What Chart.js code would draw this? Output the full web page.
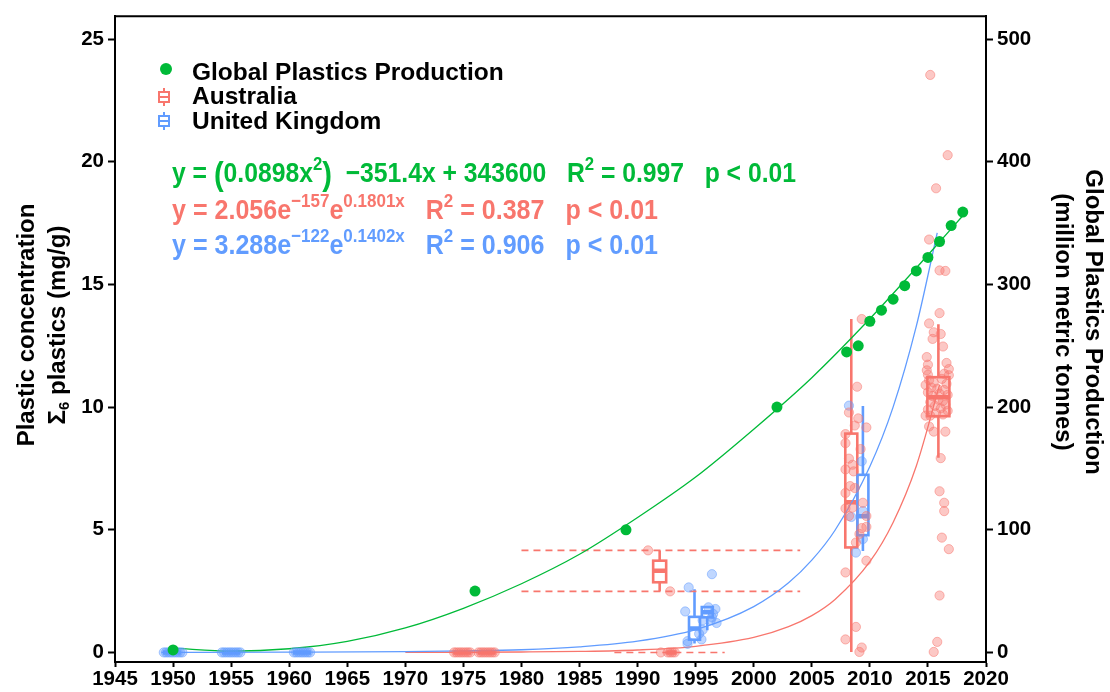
<!DOCTYPE html>
<html>
<head>
<meta charset="utf-8">
<script src="https://cdn.jsdelivr.net/npm/chart.js@4.4.1/dist/chart.umd.min.js"></script>
<style>
    html, body { margin: 0; padding: 0; background: #fff; }
    canvas { display: block; }
</style>
</head>
<body>
<canvas id="plasticsChart" width="1110" height="692"></canvas>
<script>
const RED = '#F8766D';
const GREEN = '#00BA38';
const BLUE = '#619CFF';
const FONT = "'Liberation Sans', Arial, Helvetica, sans-serif";

// axis ticks
const yearTicks = [1945, 1950, 1955, 1960, 1965, 1970, 1975, 1980, 1985, 1990, 1995, 2000, 2005, 2010, 2015, 2020];
const concTicks = [0, 5, 10, 15, 20, 25];
const prodTicks = [0, 100, 200, 300, 400, 500];

// global plastics production (million metric tonnes, right axis)
const prodYears = [1950, 1976, 1989, 2002, 2008, 2009, 2010, 2011, 2012, 2013, 2014, 2015, 2016, 2017, 2018];
const prodTonnes = [2, 50, 100, 200, 245, 250, 270, 279, 288, 299, 311, 322, 335, 348, 359];

// fitted production trend
const prodFitYears = [1950, 1955, 1960, 1965, 1970, 1975, 1980, 1985, 1990, 1995, 2000, 2005, 2010, 2015, 2018];
const prodFitTonnes = [3.5, 1, 3, 9, 20, 36, 56, 80, 110, 143, 182, 224, 272, 324, 356];

// fitted concentration trends (mg/g)
const ukFitYears = [1949, 1960, 1970, 1975, 1980, 1985, 1990, 1995, 2000, 2003, 2005, 2007, 2010, 2012, 2014, 2015.8];
const ukFitValues = [0, 0.01, 0.03, 0.06, 0.11, 0.23, 0.46, 0.93, 1.87, 2.84, 3.76, 4.98, 7.58, 10.0, 13.3, 17.1];
const auFitYears = [1970, 1975, 1980, 1985, 1990, 1995, 2000, 2003, 2005, 2007, 2010, 2012, 2014, 2016];
const auFitValues = [0.003, 0.007, 0.017, 0.04, 0.1, 0.25, 0.61, 1.05, 1.5, 2.16, 3.7, 5.3, 7.6, 10.9];

// Australia sample points
const auPointYears = [
    1974.2, 1974.4, 1974.6, 1974.8, 1975.0, 1975.2, 1975.4, 1975.6,
    1976.3, 1976.5, 1976.7, 1976.9, 1977.1, 1977.3, 1977.5, 1977.7,
    1990.9, 1992.8, 1992.0, 1992.6, 1992.8, 1993.0, 1993.2,
    2009.3, 2008.9, 2008.2, 2009.0, 2008.7, 2009.7, 2007.9, 2007.9, 2008.2, 2008.5, 2009.2,
    2007.9, 2008.6, 2008.3, 2007.9, 2008.7, 2007.9, 2008.5, 2008.2, 2009.4, 2009.7, 2009.7,
    2009.3, 2009.1, 2008.8, 2009.7, 2007.9, 2008.8, 2007.9, 2009.3, 2009.1,
    2015.2, 2016.7, 2015.7, 2015.1, 2016.0, 2016.5, 2016.0, 2015.1, 2015.5, 2016.1, 2015.4,
    2016.3, 2014.9, 2015.0, 2015.0, 2016.4, 2016.8, 2014.8, 2014.9, 2016.8, 2016.6,
    2015.1, 2015.5, 2016.2, 2016.6, 2015.3, 2015.8, 2016.4, 2015.0, 2016.0, 2016.7, 2015.4,
    2015.9, 2016.3, 2015.2, 2016.5, 2015.6, 2016.1, 2015.0, 2016.7, 2015.7, 2016.3, 2015.2,
    2014.8, 2015.1, 2015.5, 2016.5, 2016.1, 2016.0, 2016.4, 2016.4, 2016.2, 2016.8, 2016.0,
    2015.8, 2015.5
];
const auPointValues = [
    0, 0, 0, 0, 0, 0, 0, 0,
    0, 0, 0, 0, 0, 0, 0, 0,
    4.16, 2.49, 0, 0, 0, 0, 0,
    13.59, 10.83, 9.78, 9.54, 9.25, 9.17, 8.9, 8.53, 7.9, 7.65, 8.29,
    7.46, 7.38, 6.78, 6.5, 6.7, 5.87, 5.9, 5.56, 6.1, 5.56, 5.12,
    5.07, 4.83, 4.48, 3.74, 3.26, 1.04, 0.53, 0.2, 0.02,
    23.54, 20.27, 18.92, 16.83, 15.57, 15.55, 13.83, 13.41, 13.05, 12.98, 12.78,
    12.47, 12.04, 11.73, 11.32, 11.36, 11.3, 10.9, 11.5, 11.55, 11.8,
    11.1, 11.0, 11.15, 10.95, 10.8, 10.75, 10.7, 10.6, 10.55, 10.5, 10.45,
    10.3, 10.25, 10.2, 10.1, 10.05, 9.95, 9.9, 9.85, 9.75, 9.7, 9.65,
    9.65, 9.21, 9.0, 9.0, 7.92, 6.57, 6.1, 5.76, 4.68, 4.21, 2.32,
    0.43, 0.02
];

// United Kingdom sample points
const ukPointYears = [
    1949.2, 1949.4, 1949.6, 1949.8, 1950.0, 1950.2, 1950.4, 1950.6, 1950.8,
    1954.2, 1954.4, 1954.6, 1954.8, 1955.0, 1955.2, 1955.4, 1955.6, 1955.8,
    1960.4, 1960.6, 1960.8, 1961.0, 1961.2, 1961.4, 1961.6, 1961.8,
    1994.4, 1996.4, 1994.1, 1996.7, 1996.8, 1996.4, 1995.6, 1995.5, 1994.3, 1994.3, 1995.3,
    1996.1, 1996.5, 1996.3, 1995.6,
    2008.2, 2009.3, 2009.4, 2008.4, 2009.4, 2008.8
];
const ukPointValues = [
    0, 0, 0, 0, 0, 0, 0, 0, 0,
    0, 0, 0, 0, 0, 0, 0, 0, 0,
    0, 0, 0, 0, 0, 0, 0, 0,
    2.65, 3.19, 1.67, 1.77, 1.2, 1.43, 0.92, 0.53, 0.46, 0.35, 0.76,
    1.84, 1.57, 1.32, 1.31,
    10.06, 7.79, 5.76, 5.52, 4.62, 4.07
];

// box plot summaries: [lower whisker, q1, median, q3, upper whisker]
const auBoxYears = [1974.9, 1977.0, 1991.9, 1992.9, 2008.4, 2015.9];
const auBoxStats = [
    [0, 0, 0, 0, 0],
    [0, 0, 0, 0, 0],
    [2.49, 2.86, 3.33, 3.74, 4.16],
    [0, 0, 0, 0, 0],
    [0.02, 4.28, 6.12, 8.92, 13.59],
    [7.94, 9.63, 10.4, 11.22, 13.38]
];
const ukBoxYears = [1949.9, 1955.0, 1961.1, 1994.9, 1996.0, 2009.4];
const ukBoxStats = [
    [0, 0, 0, 0, 0],
    [0, 0, 0, 0, 0],
    [0, 0, 0, 0, 0],
    [0.36, 0.52, 0.98, 1.45, 2.58],
    [0.9, 1.43, 1.64, 1.85, 1.85],
    [4.13, 4.78, 5.55, 7.24, 10.05]
];

// Australian range lines (dashed)
const auRangeWideYears = [1980, 2004];
const auRangeWideLevels = [4.16, 2.49];
const auRangeZeroYears = [1988, 1997.5];

// box widths in pixels (dodged groups are narrower)
const auBoxWidthPx = [18, 18, 13, 10, 12, 22];
const ukBoxWidthPx = [18, 18, 18, 11, 11, 11];

const Y_MIN = -0.39;
const Y_MAX = 25.93;
const PROD_PER_CONC = 20;

const toXY = (xs, ys) => xs.map((x, i) => ({ x, y: ys[i] }));

const drawBox = (ctx, xScale, yScale, year, stats, width, color) => {
    const [lo, q1, med, q3, hi] = stats.map(v => yScale.getPixelForValue(v));
    const cx = xScale.getPixelForValue(year);
    const half = width / 2;
    ctx.strokeStyle = color;
    ctx.lineWidth = 2.6;
    ctx.beginPath();
    ctx.moveTo(cx, hi); ctx.lineTo(cx, q3);
    ctx.moveTo(cx, q1); ctx.lineTo(cx, lo);
    ctx.stroke();
    ctx.strokeRect(cx - half, q3, width, q1 - q3);
    ctx.lineWidth = 4.5;
    ctx.beginPath();
    ctx.moveTo(cx - half, med); ctx.lineTo(cx + half, med);
    ctx.stroke();
};

const boxPlotPlugin = {
    id: 'boxPlots',
    beforeDatasetsDraw(chart) {
        const { ctx, chartArea, scales } = chart;
        ctx.save();
        ctx.beginPath();
        ctx.rect(chartArea.left, chartArea.top, chartArea.right - chartArea.left, chartArea.bottom - chartArea.top);
        ctx.clip();
        auBoxYears.forEach((yr, i) => drawBox(ctx, scales.x, scales.y, yr, auBoxStats[i], auBoxWidthPx[i], RED));
        ukBoxYears.forEach((yr, i) => drawBox(ctx, scales.x, scales.y, yr, ukBoxStats[i], ukBoxWidthPx[i], BLUE));
        ctx.restore();
    }
};

// writes a line of text with superscripts, squeezed to a given width
const drawFormula = (ctx, parts, x0, base, width, color) => {
    const fonts = {
        n: `bold 28px ${FONT}`,
        sup: `bold 19px ${FONT}`,
        paren: `bold 33px ${FONT}`
    };
    const measure = ([t, k = 'n']) => { ctx.font = fonts[k]; return ctx.measureText(t).width; };
    const total = parts.reduce((a, p) => a + measure(p), 0);
    ctx.save();
    ctx.translate(x0, base);
    ctx.scale(width / total, 1);
    ctx.fillStyle = color;
    ctx.textAlign = 'left';
    ctx.textBaseline = 'alphabetic';
    let cx = 0;
    parts.forEach(p => {
        const [t, k = 'n'] = p;
        ctx.font = fonts[k];
        const dy = k === 'sup' ? -12 : (k === 'paren' ? 3 : 0);
        ctx.fillText(t, cx, dy);
        cx += ctx.measureText(t).width;
    });
    ctx.restore();
};

const keyBox = (ctx, cx, cy, color) => {
    ctx.strokeStyle = color;
    ctx.lineWidth = 2;
    ctx.beginPath();
    ctx.moveTo(cx, cy - 9); ctx.lineTo(cx, cy + 9);
    ctx.stroke();
    ctx.fillStyle = '#fff';
    ctx.fillRect(cx - 5, cy - 5, 10, 10);
    ctx.strokeRect(cx - 5, cy - 5, 10, 10);
    ctx.beginPath();
    ctx.moveTo(cx - 5, cy); ctx.lineTo(cx + 5, cy);
    ctx.stroke();
};

const annotationPlugin = {
    id: 'annotations',
    afterDraw(chart) {
        const { ctx, chartArea } = chart;
        ctx.save();

        // top frame line
        ctx.strokeStyle = '#000';
        ctx.lineWidth = 2;
        ctx.beginPath();
        ctx.moveTo(chartArea.left - 1, chartArea.top);
        ctx.lineTo(chartArea.right + 1, chartArea.top);
        ctx.stroke();

        // legend
        ctx.fillStyle = GREEN;
        ctx.beginPath();
        ctx.arc(166, 69, 6, 0, Math.PI * 2);
        ctx.fill();
        keyBox(ctx, 164, 97, RED);
        keyBox(ctx, 164, 121, BLUE);
        ctx.fillStyle = '#000';
        ctx.font = `bold 24.5px ${FONT}`;
        ctx.textAlign = 'left';
        ctx.textBaseline = 'alphabetic';
        ctx.fillText('Global Plastics Production', 192, 80);
        ctx.fillText('Australia', 192, 104);
        ctx.fillText('United Kingdom', 192, 129);

        // fit equations
        drawFormula(ctx, [
            ['y = '], ['(', 'paren'], ['0.0898x'], ['2', 'sup'], [')', 'paren'],
            ['  \u2212351.4x + 343600   R'], ['2', 'sup'], [' = 0.997   p < 0.01']
        ], 172, 182, 624, GREEN);
        drawFormula(ctx, [
            ['y = 2.056e'], ['\u2212157', 'sup'], ['e'], ['0.1801x', 'sup'],
            ['   R'], ['2', 'sup'], [' = 0.387   p < 0.01']
        ], 172, 219, 486, RED);
        drawFormula(ctx, [
            ['y = 3.288e'], ['\u2212122', 'sup'], ['e'], ['0.1402x', 'sup'],
            ['   R'], ['2', 'sup'], [' = 0.906   p < 0.01']
        ], 172, 254, 486, BLUE);

        // axis titles
        ctx.fillStyle = '#000';
        ctx.textBaseline = 'middle';
        ctx.textAlign = 'center';
        ctx.font = `bold 24px ${FONT}`;

        ctx.save();
        ctx.translate(27, 325);
        ctx.rotate(-Math.PI / 2);
        ctx.fillText('Plastic concentration', 0, 0);
        ctx.restore();

        ctx.save();
        ctx.translate(58, 325);
        ctx.rotate(-Math.PI / 2);
        ctx.textAlign = 'left';
        const sigma = '\u03A3', sub = '6', rest = ' plastics (mg/g)';
        ctx.font = `bold 24px ${FONT}`;
        const wSigma = ctx.measureText(sigma).width;
        const wRest = ctx.measureText(rest).width;
        ctx.font = `bold 15px ${FONT}`;
        const wSub = ctx.measureText(sub).width;
        let sx = -(wSigma + wSub + wRest) / 2;
        ctx.font = `bold 24px ${FONT}`;
        ctx.fillText(sigma, sx, 0);
        ctx.font = `bold 15px ${FONT}`;
        ctx.fillText(sub, sx + wSigma, 7);
        ctx.font = `bold 24px ${FONT}`;
        ctx.fillText(rest, sx + wSigma + wSub, 0);
        ctx.restore();

        ctx.save();
        ctx.translate(1093, 322);
        ctx.rotate(Math.PI / 2);
        ctx.fillText('Global Plastics Production', 0, 0);
        ctx.restore();

        ctx.save();
        ctx.translate(1063, 322);
        ctx.rotate(Math.PI / 2);
        ctx.fillText('(million metric tonnes)', 0, 0);
        ctx.restore();

        ctx.restore();
    }
};

const jitterStyle = color => ({
    type: 'scatter',
    pointRadius: 4.6,
    pointBackgroundColor: color + '66',
    pointBorderColor: color + '80',
    pointBorderWidth: 1,
    yAxisID: 'y'
});

const fitStyle = color => ({
    type: 'line',
    pointRadius: 0,
    borderColor: color,
    borderWidth: 1.3,
    fill: false,
    cubicInterpolationMode: 'monotone'
});

const dashStyle = {
    type: 'line',
    pointRadius: 0,
    borderColor: RED,
    borderWidth: 1.6,
    borderDash: [7, 5],
    fill: false,
    yAxisID: 'y'
};

const datasets = [
    { ...jitterStyle(RED), label: 'Australia', data: toXY(auPointYears, auPointValues), order: 2 },
    { ...jitterStyle(BLUE), label: 'United Kingdom', data: toXY(ukPointYears, ukPointValues), order: 3 },
    {
        type: 'scatter', label: 'Global Plastics Production',
        data: toXY(prodYears, prodTonnes), yAxisID: 'y2',
        pointRadius: 5.5, pointBackgroundColor: GREEN, pointBorderWidth: 0, order: 1
    },
    { ...fitStyle(GREEN), label: 'production fit', data: toXY(prodFitYears, prodFitTonnes), yAxisID: 'y2', order: 4 },
    { ...fitStyle(BLUE), label: 'UK fit', data: toXY(ukFitYears, ukFitValues), yAxisID: 'y', order: 5 },
    { ...fitStyle(RED), label: 'AU fit', data: toXY(auFitYears, auFitValues), yAxisID: 'y', order: 6 },
    ...auRangeWideLevels.map(v => ({
        ...dashStyle, label: 'range', data: auRangeWideYears.map(x => ({ x, y: v })), order: 7
    })),
    { ...dashStyle, label: 'range zero', data: auRangeZeroYears.map(x => ({ x, y: 0 })), order: 7 }
];

const tickFont = { family: FONT, size: 20.5, weight: 'bold' };
const axisGrid = { drawOnChartArea: false, drawTicks: true, tickLength: 7, tickWidth: 2, tickColor: '#000' };
const axisBorder = { display: true, color: '#000', width: 2 };

new Chart(document.getElementById('plasticsChart'), {
    type: 'scatter',
    data: { datasets },
    options: {
        responsive: false,
        animation: false,
        devicePixelRatio: 1,
        layout: { padding: { top: 12, left: 0, right: 0, bottom: 0 } },
        plugins: { legend: { display: false }, tooltip: { enabled: false } },
        scales: {
            x: {
                type: 'linear',
                min: 1945,
                max: 2020,
                afterBuildTicks: s => { s.ticks = yearTicks.map(v => ({ value: v })); },
                afterFit: s => { s.height = 30; },
                ticks: { font: tickFont, color: '#000', padding: 0, maxRotation: 0, autoSkip: false, callback: v => String(v) },
                grid: { ...axisGrid, tickLength: 5 },
                border: axisBorder
            },
            y: {
                position: 'left',
                min: Y_MIN,
                max: Y_MAX,
                afterBuildTicks: s => { s.ticks = concTicks.map(v => ({ value: v })); },
                afterFit: s => { s.width = 115; },
                ticks: { font: tickFont, color: '#000', padding: 4, callback: v => String(v) },
                grid: axisGrid,
                border: axisBorder
            },
            y2: {
                position: 'right',
                min: Y_MIN * PROD_PER_CONC,
                max: Y_MAX * PROD_PER_CONC,
                afterBuildTicks: s => { s.ticks = prodTicks.map(v => ({ value: v })); },
                afterFit: s => { s.width = 124; },
                ticks: { font: tickFont, color: '#000', padding: 4, callback: v => String(v) },
                grid: axisGrid,
                border: axisBorder
            }
        }
    },
    plugins: [boxPlotPlugin, annotationPlugin]
});
</script>
</body>
</html>
